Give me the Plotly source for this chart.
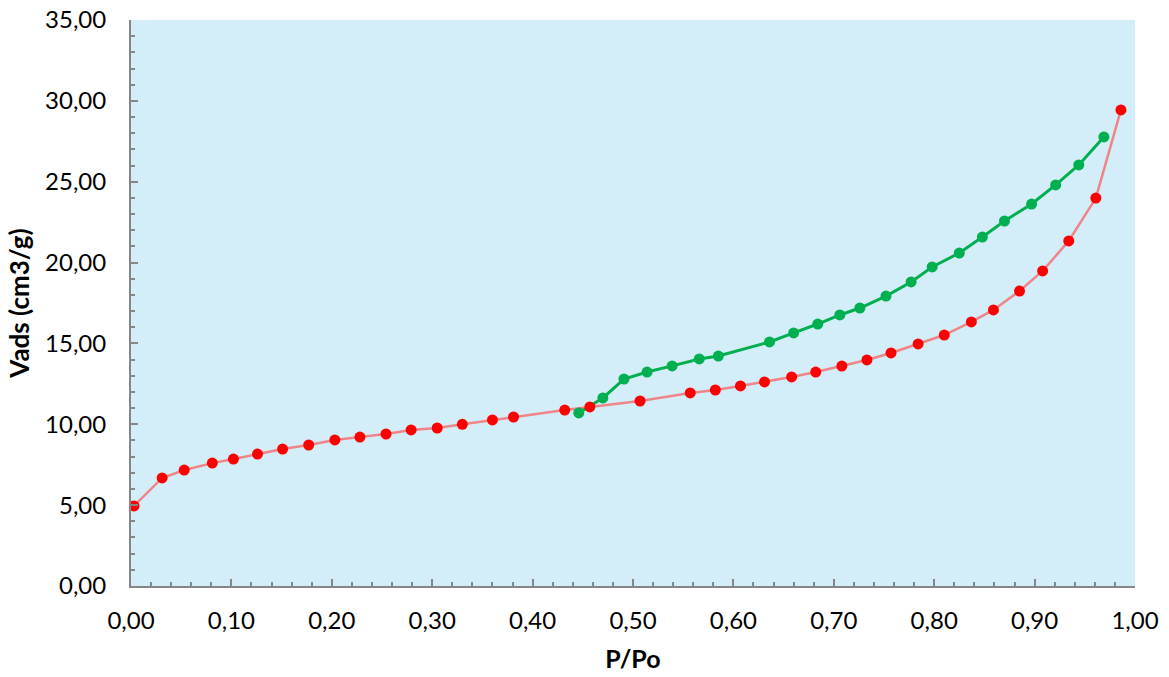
import plotly.graph_objects as go

# Adsorption branch (red)
ads_x = [0.003, 0.031, 0.053, 0.081, 0.102, 0.126, 0.151, 0.177, 0.203, 0.228,
         0.254, 0.279, 0.305, 0.330, 0.360, 0.381, 0.432, 0.457, 0.507, 0.557,
         0.582, 0.607, 0.631, 0.658, 0.682, 0.708, 0.733, 0.757, 0.784, 0.810,
         0.837, 0.859, 0.885, 0.908, 0.934, 0.961, 0.986]
ads_y = [4.95, 6.68, 7.17, 7.60, 7.85, 8.16, 8.47, 8.72, 9.03, 9.21,
         9.40, 9.65, 9.77, 10.00, 10.27, 10.45, 10.88, 11.07, 11.44, 11.94,
         12.12, 12.37, 12.62, 12.93, 13.23, 13.60, 13.98, 14.41, 14.97, 15.52,
         16.33, 17.07, 18.24, 19.48, 21.34, 23.99, 29.44]

# Desorption branch (green)
des_x = [0.446, 0.470, 0.491, 0.514, 0.539, 0.566, 0.585, 0.636, 0.660, 0.684,
         0.706, 0.726, 0.752, 0.777, 0.798, 0.825, 0.848, 0.870, 0.897, 0.921,
         0.944, 0.969]
des_y = [10.70, 11.63, 12.80, 13.23, 13.61, 14.04, 14.22, 15.09, 15.65, 16.20,
         16.76, 17.19, 17.93, 18.80, 19.73, 20.59, 21.58, 22.57, 23.62, 24.80,
         26.04, 27.77]

x_title = "P/Po"
y_title = "Vads (cm3/g)"

RED_LINE = "#f08488"
RED = "#ff0000"
GREEN = "#00b050"
AXIS = "#868686"
FONT = "Lato"

fig = go.Figure()
fig.add_trace(go.Scatter(x=ads_x, y=ads_y, mode="lines",
                         line=dict(color=RED_LINE, width=2.5), hoverinfo="skip", showlegend=False))
fig.add_trace(go.Scatter(x=des_x, y=des_y, mode="lines",
                         line=dict(color=GREEN, width=3), hoverinfo="skip", showlegend=False))
fig.add_trace(go.Scatter(x=ads_x, y=ads_y, mode="markers",
                         marker=dict(color=RED, size=11, line=dict(width=0)), showlegend=False))
fig.add_trace(go.Scatter(x=des_x, y=des_y, mode="markers",
                         marker=dict(color=GREEN, size=11, line=dict(width=0)), showlegend=False))

axis_common = dict(
    showgrid=False, zeroline=False, showline=True, linecolor=AXIS, linewidth=2,
    ticks="inside", tickcolor=AXIS, tickwidth=2, ticklen=7,
    tickfont=dict(family=FONT, size=24, color="#000000"),
    tickformat=".2f", automargin=False, ticklabeloverflow="allow",
)

fig.update_xaxes(
    range=[0, 1], dtick=0.1, tick0=0,
    minor=dict(ticks="inside", dtick=0.02, ticklen=4, tickcolor=AXIS, tickwidth=2),
    title=dict(text="<b>%s</b>" % x_title, font=dict(family=FONT, size=25, color="#000000"), standoff=18),
    ticklabelstandoff=12,
    **axis_common,
)
fig.update_yaxes(
    range=[0, 35], dtick=5, tick0=0,
    minor=dict(ticks="inside", dtick=1, ticklen=4, tickcolor=AXIS, tickwidth=2),
    title=dict(text="<b>%s</b>" % y_title, font=dict(family=FONT, size=26, color="#000000"), standoff=8),
    ticklabelstandoff=18,
    **axis_common,
)

fig.update_layout(
    width=1169, height=677,
    margin=dict(l=131, r=34, t=20, b=91),
    paper_bgcolor="#ffffff",
    plot_bgcolor="#d3eef9",
    separators=",.",
    font=dict(family=FONT, color="#000000"),
)

# remove the browser's default 8 px body margin so the figure fills the window
fig.write_html("out.html", config={"displayModeBar": False},
               post_script="document.body.style.margin='0';")
